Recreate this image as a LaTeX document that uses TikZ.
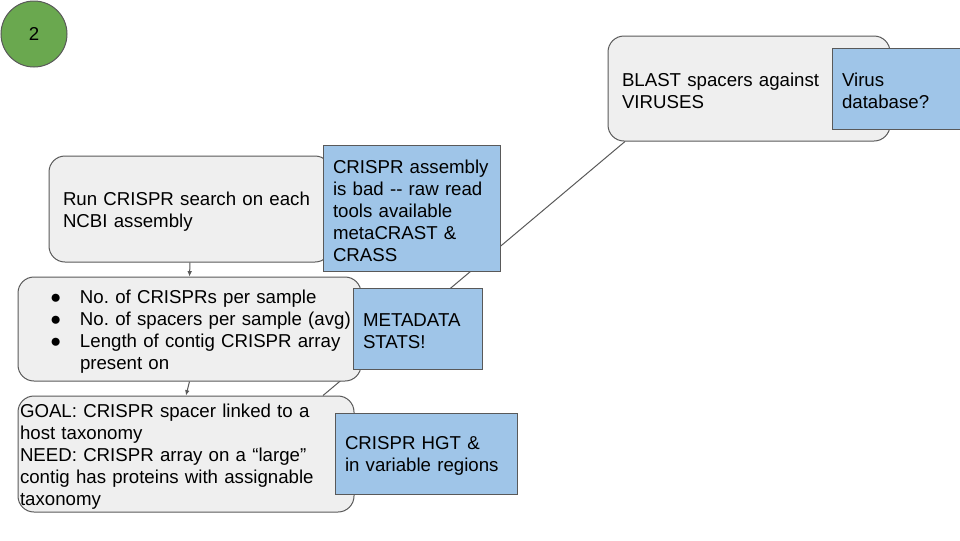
\documentclass[tikz,border=0pt]{standalone}
\usepackage{fontspec}
\setmainfont{Liberation Sans}
\usetikzlibrary{arrows.meta,backgrounds}
\definecolor{boxgray}{HTML}{EFEFEF}
\definecolor{edgegray}{HTML}{595959}
\definecolor{noteblue}{HTML}{9FC5E8}
\definecolor{badgegreen}{HTML}{6AA84F}
\newcommand\firstlift{\rule{0pt}{14pt}}
\frenchspacing
\begin{document}
\begin{tikzpicture}[x=0.75pt,y=-0.75pt,
 every node/.style={font=\fontsize{14}{16.5}\selectfont},
 stepbox/.style={draw=edgegray, fill=boxgray, rounded corners=12pt, line width=0.75pt, inner sep=0pt, align=left},
 notebox/.style={draw=edgegray, fill=noteblue, line width=0.75pt, inner sep=0pt, align=left},
 link/.style={draw=edgegray, line width=0.75pt},
 arrowlink/.style={link, -{Latex[length=4pt,width=3.5pt]}}]
\useasboundingbox (0,0) rectangle (960,540);

\node[circle, draw=edgegray, fill=badgegreen, minimum size=49.5pt, inner sep=0pt, line width=0.75pt] (badge) at (34,34) {2};

\node[stepbox, minimum width=211.5pt, minimum height=79.5pt, text width=190.5pt] (run) at (190,209)
 {\firstlift Run CRISPR search on each\\NCBI assembly};
\node[notebox, minimum width=132.75pt, minimum height=94.5pt, text width=117.75pt] (bad) at (411.5,208)
 {\firstlift CRISPR assembly\\is bad -{}- raw read\\tools available\\metaCRAST \&\\CRASS};

\node[stepbox, minimum width=257.25pt, minimum height=78pt, text width=209.25pt] (stats) at (189.5,329)
 {\mbox{\firstlift\makebox[22.5pt][l]{●}No. of CRISPRs per sample}\\
  \mbox{\makebox[22.5pt][l]{●}No. of spacers per sample (avg)}\\
  \mbox{\makebox[22.5pt][l]{●}Length of contig CRISPR array}\\
  \mbox{\hspace*{22.5pt}present on}};
\node[notebox, minimum width=96.75pt, minimum height=60.75pt, text width=81.75pt] (meta) at (417.5,328.5)
 {\firstlift METADATA\\STATS!};

\node[stepbox, minimum width=252pt, minimum height=87pt, text width=249pt] (goal) at (186,454)
 {\firstlift GOAL: CRISPR spacer linked to a\\host taxonomy\\NEED: CRISPR array on a “large”\\contig has proteins with assignable\\taxonomy};
\node[notebox, minimum width=136.5pt, minimum height=60.75pt, text width=121.5pt] (hgt) at (426,453.5)
 {\firstlift CRISPR HGT \&\\in variable regions};

\node[stepbox, minimum width=211.5pt, minimum height=78.75pt, text width=190.5pt] (blast) at (749,88.5)
 {\firstlift BLAST spacers against\\VIRUSES};
\node[notebox, minimum width=96pt, minimum height=60.75pt, text width=81pt] (virus) at (896,88.5)
 {\firstlift Virus\\database?};

\begin{scope}[on background layer]
 \draw[link] ([xshift=102.75pt]goal.north) -- ([xshift=-93pt]blast.south);
\end{scope}
\draw[arrowlink] (run.south) -- (stats.north);
\draw[arrowlink] (stats.south) -- (goal.north);
\end{tikzpicture}
\end{document}
